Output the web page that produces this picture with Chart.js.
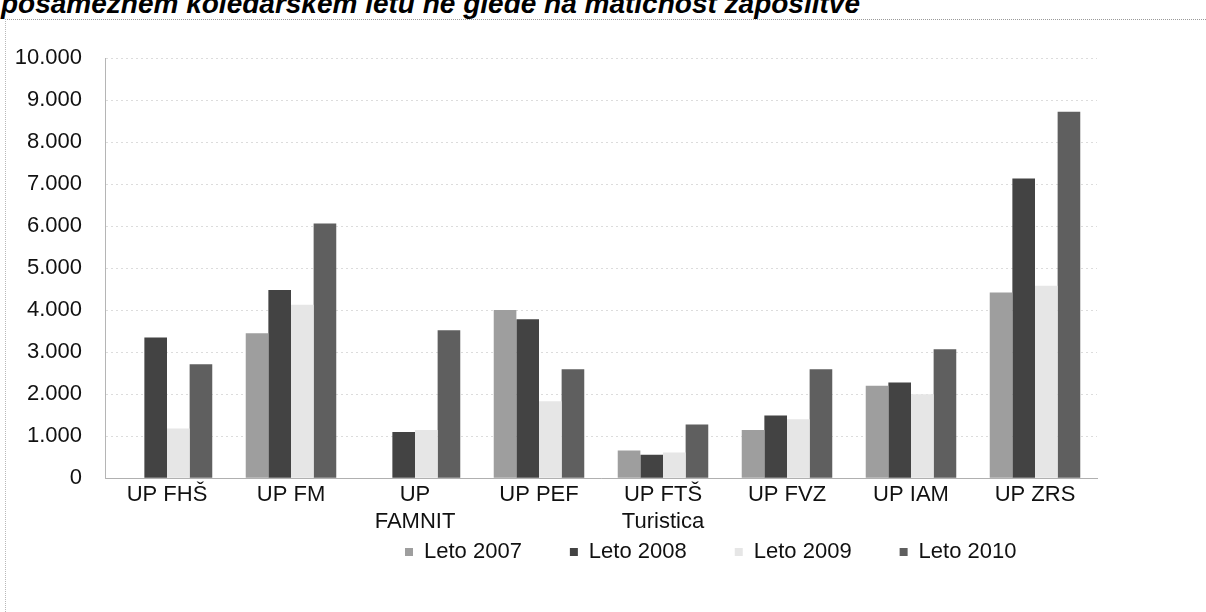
<!DOCTYPE html>
<html>
<head>
<meta charset="utf-8">
<script src="https://cdn.jsdelivr.net/npm/chart.js@4.4.1/dist/chart.umd.min.js"></script>
<style>
    html, body { margin: 0; padding: 0; background: #fff; }
    #wrap { position: relative; width: 1206px; height: 612px; overflow: hidden; }
    #title {
        position: absolute; left: 1px; top: -12px; white-space: nowrap; line-height: 30px;
        font: italic bold 28px "Liberation Sans", Arial, sans-serif; color: #000;
    }
    #frame {
        position: absolute; left: 5px; top: 19px; right: 0; bottom: 0;
        border-top: 1px dotted #9a9a9a; border-left: 1px dotted #b8b8b8;
    }
    canvas { position: absolute; left: 0; top: 0; }
</style>
</head>
<body>
<div id="wrap">
    <div id="title">posameznem koledarskem letu ne glede na matičnost zaposlitve</div>
    <div id="frame"></div>
    <canvas id="chart" width="1206" height="612"></canvas>
</div>
<script>
// categories (faculties)
const categories = [
    ['UP FHŠ'], ['UP FM'], ['UP', 'FAMNIT'], ['UP PEF'],
    ['UP FTŠ', 'Turistica'], ['UP FVZ'], ['UP IAM'], ['UP ZRS']
];

// series values
const leto2007 = [0, 3450, 0, 4000, 660, 1150, 2200, 4420];
const leto2008 = [3350, 4480, 1100, 3780, 560, 1490, 2280, 7130];
const leto2009 = [1180, 4130, 1150, 1830, 610, 1400, 2000, 4580];
const leto2010 = [2710, 6060, 3520, 2590, 1280, 2590, 3070, 8720];

const seriesLabels = ['Leto 2007', 'Leto 2008', 'Leto 2009', 'Leto 2010'];

// y axis
const yMin = 0;
const yMax = 10000;
const yStep = 1000;

function formatThousands(value) {
    return value.toString().replace(/\B(?=(\d{3})+(?!\d))/g, '.');
}

const font = { family: '"Liberation Sans", Arial, sans-serif', size: 22 };

// the legend sits right of centre and close under the labels in the original,
// move it there after layout
const legendPlace = {
    id: 'legendPlace',
    afterLayout(chart) {
        const legend = chart.legend;
        const pad = legend.options.labels.padding;
        const w = legend.right - legend.left;
        const h = legend.bottom - legend.top;
        legend.left = 405 - pad;
        legend.right = legend.left + w;
        legend.top = 552 - pad - 11;
        legend.bottom = legend.top + h;
    }
};

new Chart(document.getElementById('chart'), {
    type: 'bar',
    data: {
        labels: categories,
        datasets: [
            { label: seriesLabels[0], data: leto2007, backgroundColor: '#9e9e9e' },
            { label: seriesLabels[1], data: leto2008, backgroundColor: '#434343' },
            { label: seriesLabels[2], data: leto2009, backgroundColor: '#e6e6e6' },
            { label: seriesLabels[3], data: leto2010, backgroundColor: '#5f5f5f' }
        ]
    },
    options: {
        responsive: false,
        animation: false,
        layout: { padding: { left: 0, right: 109, top: 58, bottom: -2 } },
        datasets: {
            bar: { categoryPercentage: 0.73, barPercentage: 1.0 }
        },
        scales: {
            x: {
                grid: { display: false, drawTicks: false },
                border: { display: true, color: '#b0b0b0' },
                ticks: { color: '#111', font: font, padding: 4, maxRotation: 0 }
            },
            y: {
                min: yMin,
                max: yMax,
                afterFit: function(scale) { scale.width = 105; },
                grid: { color: '#dcdcdc', drawTicks: false },
                border: { display: true, color: '#b5b5b5', dash: [2, 3] },
                ticks: {
                    stepSize: yStep,
                    color: '#111',
                    font: font,
                    padding: 23,
                    callback: function(value) { return formatThousands(value); }
                }
            }
        },
        plugins: {
            legend: {
                position: 'bottom',
                align: 'start',
                maxHeight: 75,
                labels: {
                    color: '#111',
                    font: font,
                    boxWidth: 8,
                    boxHeight: 8,
                    padding: 48
                }
            },
            tooltip: { enabled: false }
        }
    },
    plugins: [legendPlace]
});
</script>
</body>
</html>
